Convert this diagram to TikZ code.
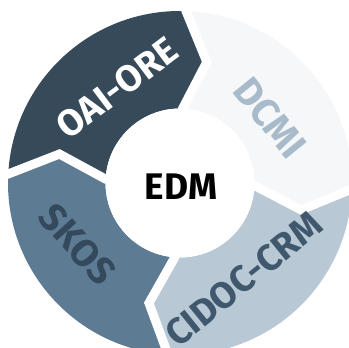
\documentclass[tikz,border=0pt]{standalone}
\usepackage{fontspec}
\setmainfont{Fira Sans}
\definecolor{oaifill}{HTML}{374A5A}
\definecolor{dcmifill}{HTML}{F5F7F9}
\definecolor{cidocfill}{HTML}{B8C8D4}
\definecolor{skosfill}{HTML}{5E7B94}
\definecolor{dcmitext}{HTML}{A8BBCA}
\definecolor{cidoctext}{HTML}{3F586D}
\definecolor{skostext}{HTML}{34495B}
% outer radius, inner radius, radius of the chevron tips, angular offset of the tips
\def\Ro{172}
\def\Ri{74.5}
\def\Rm{124}
\def\dt{10.5}
% one arc of the cycle: #1 leading angle, #2 trailing angle, #3 colour
\newcommand\ringseg[3]{%
  \fill[#3,shift={(C)}] ({#1}:\Ro) -- ({#1-\dt}:\Rm) -- ({#1}:\Ri)
    arc[start angle={#1}, end angle={#2}, radius=\Ri]
    -- ({#2-\dt}:\Rm) -- ({#2}:\Ro)
    arc[start angle={#2}, end angle={#1}, radius=\Ro] -- cycle;}
% white gap along a chevron boundary at angle #1
\newcommand\ringgap[1]{%
  \draw[gapline,shift={(C)}] ({#1}:\Ro+20) -- ({#1}:\Ro) -- ({#1-\dt}:\Rm)
    -- ({#1}:\Ri) -- ({#1}:\Ri-20);}
\begin{document}
\begin{tikzpicture}[x=1pt,y=1pt,
  gapline/.style={draw=white, line width=9pt, line join=miter, miter limit=10},
  lbl/.style={font=\fontsize{37}{37}\selectfont\bfseries, inner sep=0pt},
  hubstyle/.style={circle, fill=white, inner sep=0pt, minimum size=2*\Ri pt}]
\useasboundingbox (0,0) rectangle (349,348);
\fill[white] (0,0) rectangle (349,348);
\coordinate (C) at (180,165);

% the four arcs of the cycle, clockwise
\ringseg{88}{177}{oaifill}
\ringseg{-2}{88}{dcmifill}
\ringseg{-94}{-2}{cidocfill}
\ringseg{177}{266}{skosfill}

% gaps between the arcs
\ringgap{88}
\ringgap{-2}
\ringgap{-94}
\ringgap{177}

% hub
\node[hubstyle] (hub) at (C) {};
\node[font=\fontsize{37}{37}\selectfont\bfseries, inner sep=0pt] (edm) at (181,161.3) {EDM};

% labels
\node[lbl, text=white, rotate=37] (oai) at (117,260) {OAI-ORE};
\node[lbl, text=dcmitext, rotate=-51, font=\fontsize{39}{39}\selectfont\bfseries] (dcmi) at (270,230) {DCMI};
\node[lbl, text=cidoctext, rotate=39] (cidoc) at (243.5,69) {CIDOC-CRM};
\node[lbl, text=skostext, rotate=-48, font=\fontsize{38}{38}\selectfont\bfseries] (skos) at (77.5,103.5) {SKOS};
\end{tikzpicture}
\end{document}
